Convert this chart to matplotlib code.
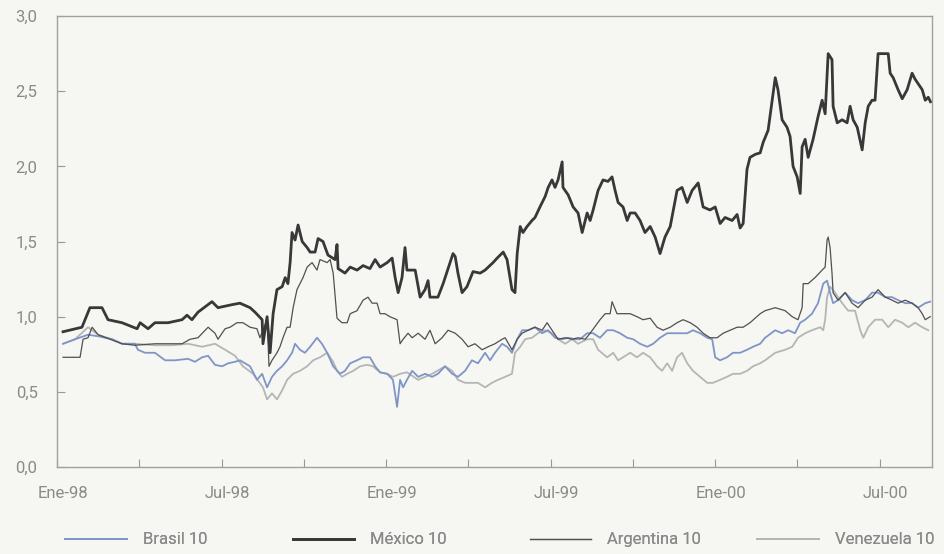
import matplotlib
matplotlib.use("Agg")
import matplotlib.pyplot as plt
import matplotlib.transforms as mtransforms

# x values: months elapsed since Ene-98 (0 = 1 Jan 1998)
mex_m = [0.22, 0.91, 1.20, 1.64, 1.86, 2.37, 2.92, 3.03, 3.32, 3.57, 4.05, 4.56, 4.74, 4.92, 5.14,
         5.65, 5.87, 6.38, 6.67, 7.04, 7.22, 7.48, 7.51, 7.66, 7.77, 7.88, 8.02, 8.21, 8.32, 8.42,
         8.50, 8.57, 8.68, 8.79, 8.94, 9.12, 9.23, 9.41, 9.52, 9.70, 9.88, 10.14, 10.21, 10.25,
         10.50, 10.69, 10.94, 11.16, 11.41, 11.60, 11.78, 12.04, 12.22, 12.33, 12.44, 12.58, 12.69,
         12.76, 13.06, 13.24, 13.42, 13.53, 13.60, 13.89, 14.08, 14.44, 14.52, 14.62, 14.77, 14.95,
         15.17, 15.43, 15.61, 15.90, 16.05, 16.27, 16.41, 16.59, 16.70, 16.78, 16.89, 16.99, 17.14,
         17.32, 17.43, 17.61, 17.80, 17.91, 18.05, 18.16, 18.27, 18.42, 18.45, 18.64, 18.82, 19.00,
         19.15, 19.33, 19.44, 19.55, 19.73, 19.91, 20.09, 20.24, 20.35, 20.46, 20.64, 20.79, 20.90,
         21.08, 21.26, 21.44, 21.63, 21.81, 21.99, 22.17, 22.36, 22.61, 22.79, 22.98, 23.16, 23.38,
         23.56, 23.81, 24.00, 24.18, 24.36, 24.62, 24.80, 24.91, 25.02, 25.16, 25.27, 25.46, 25.64,
         25.75, 25.93, 26.08, 26.19, 26.29, 26.44, 26.62, 26.73, 26.84, 26.99, 27.10, 27.17, 27.28,
         27.39, 27.57, 27.75, 27.90, 28.01, 28.12, 28.26, 28.30, 28.45, 28.63, 28.81, 28.92, 29.03,
         29.18, 29.36, 29.47, 29.58, 29.72, 29.83, 29.94, 30.12, 30.31, 30.38, 30.49, 30.67, 30.82,
         31.00, 31.18, 31.29, 31.55, 31.66, 31.77, 31.85]
mex_v = [0.90, 0.93, 1.06, 1.06, 0.98, 0.96, 0.92, 0.96, 0.92, 0.96, 0.96, 0.98, 1.01, 0.98, 1.03,
         1.10, 1.06, 1.08, 1.09, 1.06, 1.03, 0.98, 0.82, 1.00, 0.76, 1.02, 1.18, 1.20, 1.26, 1.22,
         1.36, 1.56, 1.51, 1.61, 1.50, 1.46, 1.43, 1.43, 1.52, 1.50, 1.41, 1.38, 1.48, 1.32,
         1.29, 1.33, 1.31, 1.34, 1.32, 1.38, 1.33, 1.36, 1.39, 1.26, 1.16, 1.26, 1.46,
         1.31, 1.31, 1.13, 1.18, 1.24, 1.13, 1.13, 1.22, 1.42, 1.40, 1.29, 1.16, 1.20,
         1.30, 1.29, 1.31, 1.36, 1.39, 1.43, 1.38, 1.18, 1.16, 1.42, 1.60, 1.56, 1.60,
         1.64, 1.66, 1.73, 1.80, 1.86, 1.91, 1.86, 1.91, 2.03, 1.86, 1.81, 1.73, 1.69,
         1.56, 1.69, 1.64, 1.71, 1.84, 1.91, 1.90, 1.93, 1.84, 1.76, 1.73, 1.64, 1.69,
         1.69, 1.64, 1.56, 1.60, 1.53, 1.42, 1.53, 1.60, 1.84, 1.86, 1.76, 1.84, 1.89,
         1.73, 1.71, 1.73, 1.62, 1.66, 1.64, 1.68, 1.59, 1.62, 1.98, 2.06, 2.08, 2.09,
         2.16, 2.24, 2.44, 2.59, 2.51, 2.31, 2.26, 2.20, 2.00, 1.93, 1.82, 2.13, 2.18,
         2.06, 2.18, 2.33, 2.44, 2.35, 2.75, 2.71, 2.40, 2.29, 2.31, 2.29, 2.40, 2.31,
         2.26, 2.11, 2.29, 2.40, 2.44, 2.44, 2.75, 2.75, 2.75, 2.62, 2.59, 2.51, 2.45,
         2.51, 2.62, 2.58, 2.51, 2.44, 2.46, 2.43]

arg_m = [0.22, 0.84, 0.95, 1.13, 1.28, 1.50, 2.37, 2.84, 3.57, 4.56, 4.85, 5.14, 5.51, 5.76, 5.87,
         6.13, 6.31, 6.56, 6.78, 7.04, 7.29, 7.40, 7.66, 7.73, 7.84, 8.02, 8.13, 8.24, 8.39, 8.50,
         8.61, 8.75, 8.86, 8.97, 9.12, 9.30, 9.48, 9.59, 9.85, 9.96, 10.07, 10.21, 10.39, 10.58,
         10.69, 10.94, 11.16, 11.34, 11.49, 11.67, 11.78, 11.96, 12.14, 12.40, 12.51, 12.62, 12.80,
         12.95, 13.17, 13.42, 13.60, 13.79, 14.04, 14.26, 14.52, 14.77, 14.99, 15.24, 15.50, 15.72,
         15.97, 16.23, 16.34, 16.59, 16.78, 16.96, 17.18, 17.43, 17.69, 17.87, 18.05, 18.27, 18.53,
         18.78, 19.00, 19.26, 19.44, 19.80, 19.99, 20.17, 20.24, 20.42, 20.64, 20.90, 21.15, 21.37,
         21.63, 21.88, 22.10, 22.36, 22.61, 22.83, 23.09, 23.34, 23.56, 23.81, 24.07, 24.29, 24.54,
         24.80, 25.02, 25.27, 25.64, 25.82, 26.19, 26.55, 26.81, 27.02, 27.17, 27.21, 27.39, 27.64,
         27.90, 28.01, 28.08, 28.12, 28.19, 28.26, 28.30, 28.48, 28.74, 28.99, 29.21, 29.47, 29.72,
         29.94, 30.20, 30.45, 30.67, 30.93, 31.18, 31.40, 31.55, 31.66, 31.84]
arg_v = [0.73, 0.73, 0.85, 0.86, 0.93, 0.88, 0.82, 0.81, 0.82, 0.82, 0.85, 0.86, 0.93, 0.89, 0.85,
         0.92, 0.93, 0.96, 0.96, 0.93, 0.92, 0.86, 0.98, 0.67, 0.71, 0.76, 0.80, 0.86, 0.93, 0.93,
         1.06, 1.18, 1.22, 1.26, 1.33, 1.36, 1.31, 1.38, 1.36, 1.38, 1.29, 0.99, 0.96, 0.96,
         1.02, 1.04, 1.11, 1.13, 1.09, 1.09, 1.02, 1.02, 1.00, 0.98, 0.82, 0.85, 0.89,
         0.86, 0.89, 0.85, 0.91, 0.82, 0.86, 0.91, 0.89, 0.85, 0.80, 0.82, 0.78, 0.80,
         0.82, 0.85, 0.86, 0.78, 0.85, 0.89, 0.91, 0.93, 0.91, 0.96, 0.91, 0.85, 0.86,
         0.85, 0.86, 0.85, 0.89, 0.98, 1.02, 1.02, 1.10, 1.02, 1.02, 1.02, 1.00, 0.98,
         0.99, 0.93, 0.91, 0.93, 0.96, 0.98, 0.96, 0.93, 0.89, 0.86, 0.86, 0.89, 0.91,
         0.93, 0.93, 0.96, 1.02, 1.04, 1.06, 1.04, 1.00, 0.98, 1.06, 1.22, 1.22, 1.26,
         1.31, 1.33, 1.51, 1.53, 1.46, 1.29, 1.16, 1.11, 1.16, 1.09, 1.06, 1.11, 1.13,
         1.18, 1.13, 1.11, 1.09, 1.11, 1.09, 1.06, 1.02, 0.98, 1.00]

bra_m = [0.22, 0.66, 1.13, 1.50, 2.01, 2.37, 2.84, 2.95, 3.21, 3.57, 3.94, 4.30, 4.78, 5.03, 5.29,
         5.51, 5.76, 6.02, 6.24, 6.49, 6.67, 7.04, 7.29, 7.48, 7.66, 7.84, 8.02, 8.21, 8.39, 8.57,
         8.68, 8.86, 9.04, 9.23, 9.48, 9.66, 9.85, 10.07, 10.32, 10.50, 10.69, 10.94, 11.16, 11.41,
         11.60, 11.78, 12.04, 12.25, 12.40, 12.51, 12.62, 12.76, 12.95, 13.17, 13.42, 13.68, 13.89,
         14.15, 14.41, 14.62, 14.88, 15.13, 15.35, 15.61, 15.79, 15.97, 16.23, 16.41, 16.59, 16.78,
         16.96, 17.18, 17.43, 17.69, 17.91, 18.16, 18.42, 18.64, 18.89, 19.07, 19.33, 19.55, 19.80,
         20.06, 20.28, 20.53, 20.79, 21.01, 21.26, 21.52, 21.74, 21.99, 22.25, 22.47, 22.72, 22.98,
         23.19, 23.45, 23.71, 23.89, 24.00, 24.18, 24.43, 24.65, 24.91, 25.16, 25.38, 25.64, 25.82,
         26.19, 26.44, 26.66, 26.91, 27.10, 27.28, 27.53, 27.75, 27.94, 28.08, 28.19, 28.30, 28.48,
         28.74, 28.99, 29.21, 29.47, 29.72, 29.94, 30.20, 30.45, 30.67, 30.93, 31.18, 31.40, 31.66,
         31.84]
bra_v = [0.82, 0.85, 0.88, 0.87, 0.85, 0.82, 0.82, 0.78, 0.76, 0.76, 0.71, 0.71, 0.72, 0.70, 0.73,
         0.74, 0.68, 0.67, 0.69, 0.70, 0.71, 0.67, 0.58, 0.62, 0.53, 0.60, 0.64, 0.67, 0.71, 0.76,
         0.82, 0.78, 0.76, 0.80, 0.86, 0.82, 0.76, 0.67, 0.62, 0.64, 0.69, 0.71, 0.73, 0.73,
         0.67, 0.63, 0.62, 0.58, 0.40, 0.58, 0.53, 0.58, 0.64, 0.60, 0.62, 0.60, 0.62,
         0.67, 0.62, 0.60, 0.64, 0.71, 0.69, 0.76, 0.71, 0.76, 0.82, 0.80, 0.76, 0.85,
         0.91, 0.91, 0.93, 0.89, 0.91, 0.86, 0.85, 0.86, 0.85, 0.85, 0.89, 0.89, 0.86,
         0.91, 0.91, 0.89, 0.86, 0.85, 0.82, 0.80, 0.82, 0.86, 0.89, 0.89, 0.89, 0.89,
         0.91, 0.89, 0.86, 0.85, 0.73, 0.71, 0.73, 0.76, 0.76, 0.78, 0.80, 0.82, 0.86,
         0.91, 0.89, 0.91, 0.89, 0.96, 0.98, 1.02, 1.09, 1.22, 1.24, 1.16, 1.09, 1.11,
         1.16, 1.11, 1.09, 1.11, 1.16, 1.16, 1.13, 1.13, 1.11, 1.09, 1.09, 1.06, 1.09,
         1.10]

ven_m = [0.22, 0.66, 1.13, 1.50, 2.01, 2.37, 2.84, 3.57, 4.19, 4.78, 5.29, 5.76, 6.13, 6.49, 6.78,
         7.15, 7.51, 7.66, 7.84, 8.02, 8.21, 8.39, 8.61, 8.86, 9.12, 9.34, 9.59, 9.85, 10.07, 10.21,
         10.39, 10.58, 10.80, 11.05, 11.31, 11.52, 11.78, 12.04, 12.25, 12.51, 12.76, 13.17, 13.68,
         14.15, 14.41, 14.62, 14.88, 15.13, 15.35, 15.61, 15.86, 16.08, 16.34, 16.59, 16.70, 16.89,
         17.07, 17.32, 17.54, 17.80, 18.05, 18.27, 18.53, 18.78, 19.00, 19.33, 19.55, 19.73, 20.06,
         20.28, 20.46, 20.64, 20.90, 21.15, 21.37, 21.63, 21.88, 22.06, 22.25, 22.43, 22.61, 22.79,
         22.98, 23.19, 23.45, 23.71, 23.92, 24.18, 24.43, 24.65, 24.91, 25.16, 25.38, 25.64, 25.82,
         26.19, 26.55, 26.81, 27.02, 27.28, 27.53, 27.83, 27.94, 28.01, 28.08, 28.19, 28.37, 28.63,
         28.85, 29.10, 29.29, 29.40, 29.58, 29.83, 30.09, 30.31, 30.56, 30.82, 31.04, 31.29, 31.55,
         31.77]
ven_v = [0.82, 0.85, 0.93, 0.88, 0.85, 0.82, 0.82, 0.81, 0.81, 0.82, 0.80, 0.82, 0.78, 0.74, 0.67,
         0.62, 0.53, 0.45, 0.49, 0.45, 0.51, 0.58, 0.62, 0.64, 0.67, 0.71, 0.73, 0.76, 0.70, 0.64,
         0.60, 0.62, 0.64, 0.67, 0.68, 0.67, 0.63, 0.62, 0.60, 0.62, 0.63, 0.58, 0.62,
         0.67, 0.64, 0.58, 0.56, 0.56, 0.56, 0.53, 0.56, 0.58, 0.60, 0.62, 0.76, 0.80,
         0.85, 0.86, 0.89, 0.91, 0.89, 0.85, 0.82, 0.85, 0.82, 0.85, 0.85, 0.78, 0.73,
         0.76, 0.71, 0.73, 0.76, 0.73, 0.76, 0.73, 0.67, 0.64, 0.69, 0.64, 0.73, 0.76,
         0.69, 0.64, 0.60, 0.56, 0.56, 0.58, 0.60, 0.62, 0.62, 0.64, 0.67, 0.69, 0.71,
         0.76, 0.78, 0.80, 0.86, 0.89, 0.91, 0.93, 0.91, 0.98, 1.13, 1.20, 1.16, 1.09,
         1.04, 1.04, 0.91, 0.86, 0.93, 0.98, 0.98, 0.93, 0.98, 0.96, 0.93, 0.96, 0.93,
         0.91]

tick_pos = [0, 3, 6, 9, 12, 15, 18, 21, 24, 27, 30]
tick_lab = ['Ene-98', '', 'Jul-98', '', 'Ene-99', '', 'Jul-99', '', 'Ene-00', '', 'Jul-00']
y_ticks = [0.0, 0.5, 1.0, 1.5, 2.0, 2.5, 3.0]

plt.rcParams['font.family'] = ['Roboto', 'DejaVu Sans']

bg = '#f6f7f3'
txt = '#8a8a8a'
fig = plt.figure(figsize=(9.44, 5.54), dpi=100, facecolor=bg)
ax = fig.add_axes([0.0604, 0.157, 0.927, 0.814], facecolor=bg)

lv, = ax.plot(ven_m, ven_v, color='#b4b6b4', lw=1.3, label='Venezuela 10', zorder=2)
lb, = ax.plot(bra_m, bra_v, color='#8094c8', lw=1.3, label='Brasil 10', zorder=3)
la, = ax.plot(arg_m, arg_v, color='#505050', lw=0.9, label='Argentina 10', zorder=4)
lm, = ax.plot(mex_m, mex_v, color='#383838', lw=2.0, label='México 10', zorder=5)

ax.set_xlim(0, 31.91)
ax.set_ylim(0, 3.0)
ax.set_xticks(tick_pos)
ax.set_xticklabels(tick_lab)
ax.set_yticks(y_ticks)
ax.set_yticklabels([f'{v:.1f}'.replace('.', ',') for v in y_ticks])
ax.tick_params(axis='both', direction='in', colors='#999999', labelcolor=txt, labelsize=12, length=6)
ax.tick_params(axis='x', pad=14)
ax.tick_params(axis='y', pad=14)
shift = mtransforms.ScaledTranslation(6 / 100, 0, fig.dpi_scale_trans)
for lab in ax.get_xticklabels():
    lab.set_transform(lab.get_transform() + shift)
for s in ax.spines.values():
    s.set_color('#a0a0a0')
    s.set_linewidth(1.0)

# legend entries placed one by one along the bottom
leg_x = [0.069, 0.310, 0.561, 0.802]
for line, x in zip([lb, lm, la, lv], leg_x):
    leg = fig.legend([line], [line.get_label()], loc='lower left', bbox_to_anchor=(x, 0.012),
                     frameon=False, fontsize=12, handlelength=3.7, handletextpad=0.95,
                     borderpad=0, borderaxespad=0, labelcolor=txt)
    fig.add_artist(leg)

fig.savefig('out.png', dpi=100, facecolor=bg)
